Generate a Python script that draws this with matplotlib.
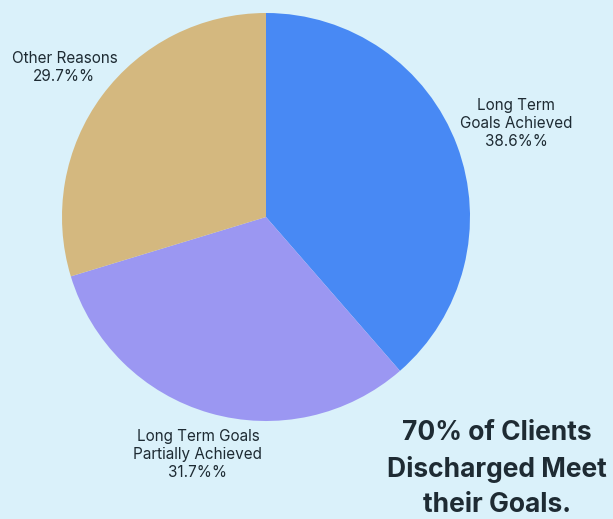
import numpy as np
import matplotlib.pyplot as plt

labels = ["Long Term\nGoals Achieved", "Long Term Goals\nPartially Achieved", "Other Reasons"]
values = [38.6, 31.7, 29.7]
colors = ["#4889f4", "#9b97f2", "#d4b87f"]
title = "70% of Clients\nDischarged Meet\ntheir Goals."

bg = "#daf1fa"
txt = "#1e2b33"
plt.rcParams['font.family'] = ['Inter', 'DejaVu Sans']

fig = plt.figure(figsize=(6.13, 5.19), dpi=100, facecolor=bg)
W, H = 613, 519
cx, cy, r = 266, 217, 204
ax = fig.add_axes([(cx - r) / W, (H - cy - r) / H, 2 * r / W, 2 * r / H])
ax.set_facecolor(bg)

lbls = [f"{l}\n{v}%%" for l, v in zip(labels, values)]
wedges, texts = ax.pie(values, labels=lbls, colors=colors, startangle=90,
                       counterclock=False, labeldistance=1.25,
                       wedgeprops=dict(linewidth=0),
                       textprops=dict(fontsize=11, color=txt))
# nudge labels out a little differently per wedge
dist = [1.31, 1.21, 1.23]
for w, t, d in zip(wedges, texts, dist):
    a = np.deg2rad((w.theta1 + w.theta2) / 2)
    t.set_position((d * np.cos(a), d * np.sin(a)))
    t.set_ha('center')
    t.set_va('center')
    t.set_multialignment('center')
    t.set_linespacing(1.25)
ax.set_xlim(-1, 1)
ax.set_ylim(-1, 1)
ax.set_aspect('equal')
ax.axis('off')

fig.text(497 / W, 1 - 469 / H, title, ha='center', va='center', fontsize=19,
         fontweight='bold', color=txt, linespacing=1.45)

fig.savefig("out.png", dpi=100, facecolor=bg)
